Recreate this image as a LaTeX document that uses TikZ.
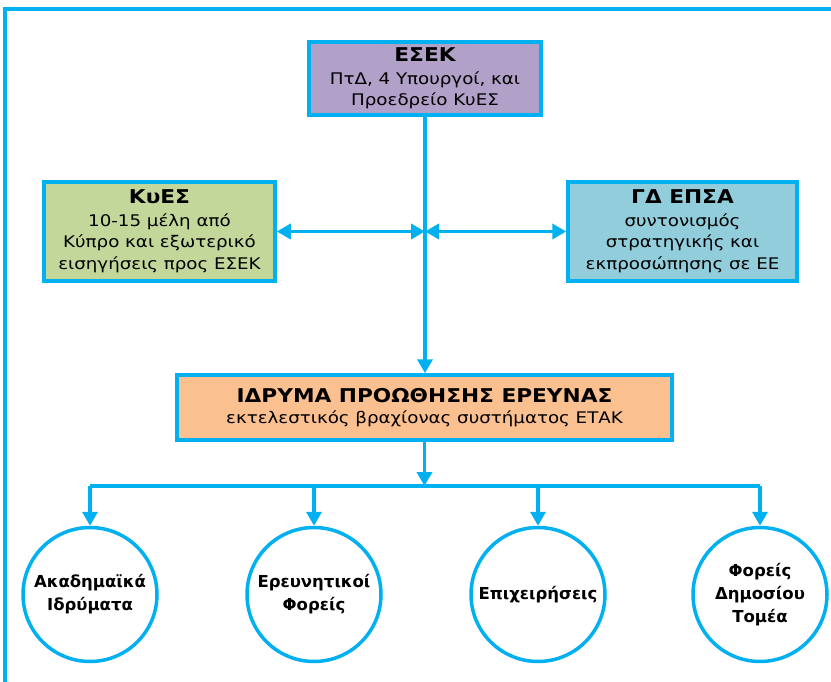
\documentclass[tikz,border=0pt]{standalone}
\usepackage{fontspec}
\setmainfont{DejaVu Sans}
\newfontfamily\boxfont[FakeStretch=1.14]{DejaVu Sans}
\usetikzlibrary{arrows.meta,positioning}

\definecolor{linkblue}{HTML}{00B0F0}
\definecolor{esekfill}{HTML}{B1A0C7}
\definecolor{kyesfill}{HTML}{C4D79B}
\definecolor{gdfill}{HTML}{92CDDC}
\definecolor{idrymafill}{HTML}{FAC090}

\tikzset{
    orgbox/.style={draw=linkblue, line width=3.5pt, align=center, inner sep=2pt,
        font=\boxfont\fontsize{16}{21.5}\selectfont},
    actor/.style={draw=linkblue, line width=3.5pt, circle, minimum size=134pt,
        inner sep=0pt, align=center, font=\bfseries\fontsize{16.5}{23}\selectfont},
    link/.style={linkblue, line width=3.5pt},
    oneway/.style={-{Triangle[length=14pt,width=15pt]}},
    twoway/.style={{Triangle[length=14pt,width=15pt]}-{Triangle[length=14pt,width=15pt]}}
}
\newcommand{\boxtitle}[1]{{\bfseries\fontsize{19}{20}\selectfont #1}}

\begin{document}
\begin{tikzpicture}[x=1pt, y=-1pt]
    \useasboundingbox (0,0) rectangle (831,682);

    % outer frame
    \draw[link, line width=3.6pt] (831,9) -- (5,9) -- (5,682);

    % governance boxes
    \node[orgbox, fill=esekfill, minimum width=232pt, minimum height=73pt] (esek) at (425,78.5) {
        \boxtitle{ΕΣΕΚ}\\[1pt]
        ΠτΔ, 4 Υπουργοί, και\\
        Προεδρείο ΚυΕΣ
    };

    \node[orgbox, fill=kyesfill, minimum width=231pt, minimum height=99pt] (kyes) at (159.5,231.5) {
        \boxtitle{ΚυΕΣ}\\[1pt]
        10-15 μέλη από\\
        Κύπρο και εξωτερικό\\
        εισηγήσεις προς ΕΣΕΚ
    };

    \node[orgbox, fill=gdfill, minimum width=229pt, minimum height=99pt] (gdepsa) at (682.5,231.5) {
        \boxtitle{ΓΔ ΕΠΣΑ}\\[1pt]
        συντονισμός\\
        στρατηγικής και\\
        εκπροσώπησης σε ΕΕ
    };

    \node[orgbox, fill=idrymafill, minimum width=495pt, minimum height=65pt] (idryma) at (424.5,407.5) {
        \boxtitle{ΙΔΡΥΜΑ ΠΡΟΩΘΗΣΗΣ ΕΡΕΥΝΑΣ}\\
        εκτελεστικός βραχίονας συστήματος ΕΤΑΚ
    };

    % research actors
    \node[actor] (acad) at (90,594.5) {Ακαδημαϊκά\\Ιδρύματα};
    \node[actor] (resorg) at (314,594.5) {Ερευνητικοί\\Φορείς};
    \node[actor] (firms) at (538,594.5) {Επιχειρήσεις};
    \node[actor] (public) at (760,594.5) {Φορείς\\Δημοσίου\\Τομέα};

    % connectors
    \coordinate (hub) at (esek.south |- kyes.east);
    \coordinate (bus) at (424.5,486);
    \draw[link, oneway] (esek.south) -- (esek.south |- idryma.north);
    \draw[link, twoway] (kyes) -- (hub);
    \draw[link, twoway] (hub) -- (gdepsa);
    \draw[link, oneway] (idryma) -- (bus);
    \draw[link] (bus -| acad) -- (bus -| public);
    \foreach \n in {acad, resorg, firms, public}
        \draw[link, oneway] (bus -| \n) -- (\n);
\end{tikzpicture}
\end{document}
